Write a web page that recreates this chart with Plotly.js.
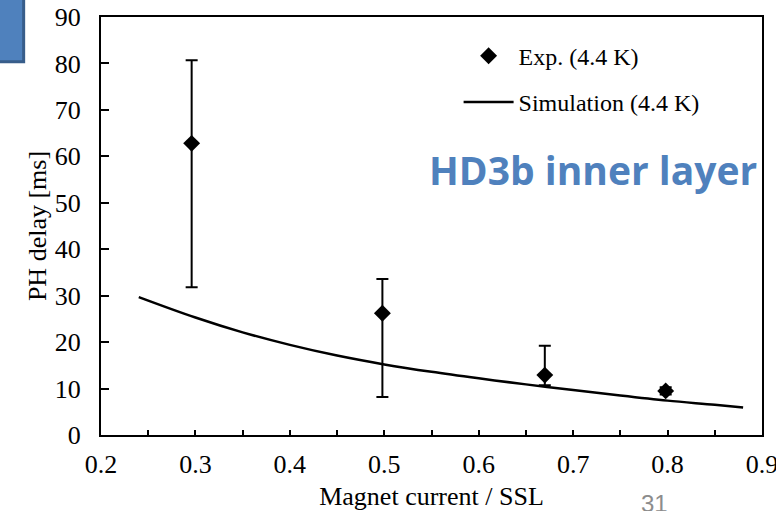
<!DOCTYPE html>
<html>
<head>
<meta charset="utf-8">
<script src="https://cdn.plot.ly/plotly-3.0.1.min.js"></script>
<style>html,body{margin:0;padding:0;background:#fff;}#chart{width:776px;height:511px;}</style>
</head>
<body>
<div id="chart"></div>
<script>
// Experimental data (4.4 K)
const expX = [0.296, 0.498, 0.670, 0.798];
const expY = [62.8, 26.2, 12.9, 9.5];
const expErrPlus = [17.9, 7.4, 6.3, 0.8];
const expErrMinus = [31.0, 18.0, 2.2, 0.8];

// Simulation curve (4.4 K)
const simX = [0.24, 0.30, 0.35, 0.40, 0.45, 0.50, 0.55, 0.60, 0.65, 0.70, 0.75, 0.80, 0.85, 0.88];
const simY = [29.7, 25.3, 22.1, 19.4, 17.1, 15.2, 13.6, 12.2, 10.9, 9.7, 8.5, 7.4, 6.5, 5.9];

// Tick labels
const xTicks = [0.2, 0.3, 0.4, 0.5, 0.6, 0.7, 0.8, 0.9];
const xTickText = ['0.2', '0.3', '0.4', '0.5', '0.6', '0.7', '0.8', '0.9'];

const serif = "Liberation Serif, Times New Roman, serif";

const traces = [
  {
    x: expX, y: expY, type: 'scatter', mode: 'markers',
    name: 'Exp. (4.4 K)', legendgroup: 'a',
    marker: {symbol: 'diamond', size: 13, color: '#000'},
    error_y: {type: 'data', symmetric: false, array: expErrPlus, arrayminus: expErrMinus,
              color: '#000', thickness: 2, width: 6}
  },
  {
    x: simX, y: simY, type: 'scatter', mode: 'lines',
    name: 'Simulation (4.4 K)', legendgroup: 'b',
    line: {color: '#000', width: 2.5, shape: 'spline'}
  }
];

const layout = {
  width: 776, height: 511,
  margin: {l: 101, r: 14, t: 16.5, b: 76},
  paper_bgcolor: '#fff', plot_bgcolor: '#fff',
  font: {family: serif, size: 26, color: '#000'},
  showlegend: true,
  legend: {x: 0.541, y: 0.96, xanchor: 'left', yanchor: 'top', bgcolor: 'rgba(0,0,0,0)',
           font: {family: serif, size: 24, color: '#000'}, tracegroupgap: 12, traceorder: 'grouped',
           itemwidth: 50},
  xaxis: {
    range: [0.2, 0.9], tickmode: 'array', tickvals: xTicks, ticktext: xTickText,
    ticklabeloverflow: 'allow', ticklabelstandoff: 5,
    ticks: 'inside', ticklen: 5, tickwidth: 2, tickcolor: '#000',
    minor: {dtick: 0.05, tick0: 0.2, ticks: 'inside', ticklen: 5, tickwidth: 2, tickcolor: '#000'},
    showline: true, linecolor: '#000', linewidth: 2, mirror: true,
    showgrid: false, zeroline: false,
    tickfont: {family: serif, size: 26, color: '#000'},
    title: {text: 'Magnet current / SSL', font: {family: serif, size: 26, color: '#000'}, standoff: 11}
  },
  yaxis: {
    range: [0, 90], dtick: 10, ticklabelstandoff: 13,
    ticks: 'inside', ticklen: 8, tickwidth: 2, tickcolor: '#000',
    showline: true, linecolor: '#000', linewidth: 2, mirror: true,
    showgrid: false, zeroline: false,
    tickfont: {family: serif, size: 26, color: '#000'},
    title: {text: 'PH delay [ms]', font: {family: serif, size: 26, color: '#000'}, standoff: 1}
  },
  shapes: [
    {type: 'rect', xref: 'paper', yref: 'paper', x0: -0.2, x1: -0.117, y0: 0.893, y1: 1.1,
     fillcolor: '#4F81BD', line: {color: '#385D8A', width: 3}, layer: 'above'}
  ],
  annotations: [
    {text: '<b>HD3b inner layer</b>', xref: 'paper', yref: 'paper', x: 0.996, y: 0.635,
     xanchor: 'right', yanchor: 'middle', showarrow: false,
     font: {family: 'Open Sans, sans-serif', size: 39, color: '#4F81BD'}},
    {text: '31', xref: 'paper', yref: 'paper', x: 0.838, y: -0.165,
     xanchor: 'center', yanchor: 'middle', showarrow: false,
     font: {family: 'Liberation Sans, Arial, sans-serif', size: 24, color: '#8C8C8C'}}
  ]
};

Plotly.newPlot('chart', traces, layout, {displayModeBar: false, staticPlot: true});
</script>
</body>
</html>
